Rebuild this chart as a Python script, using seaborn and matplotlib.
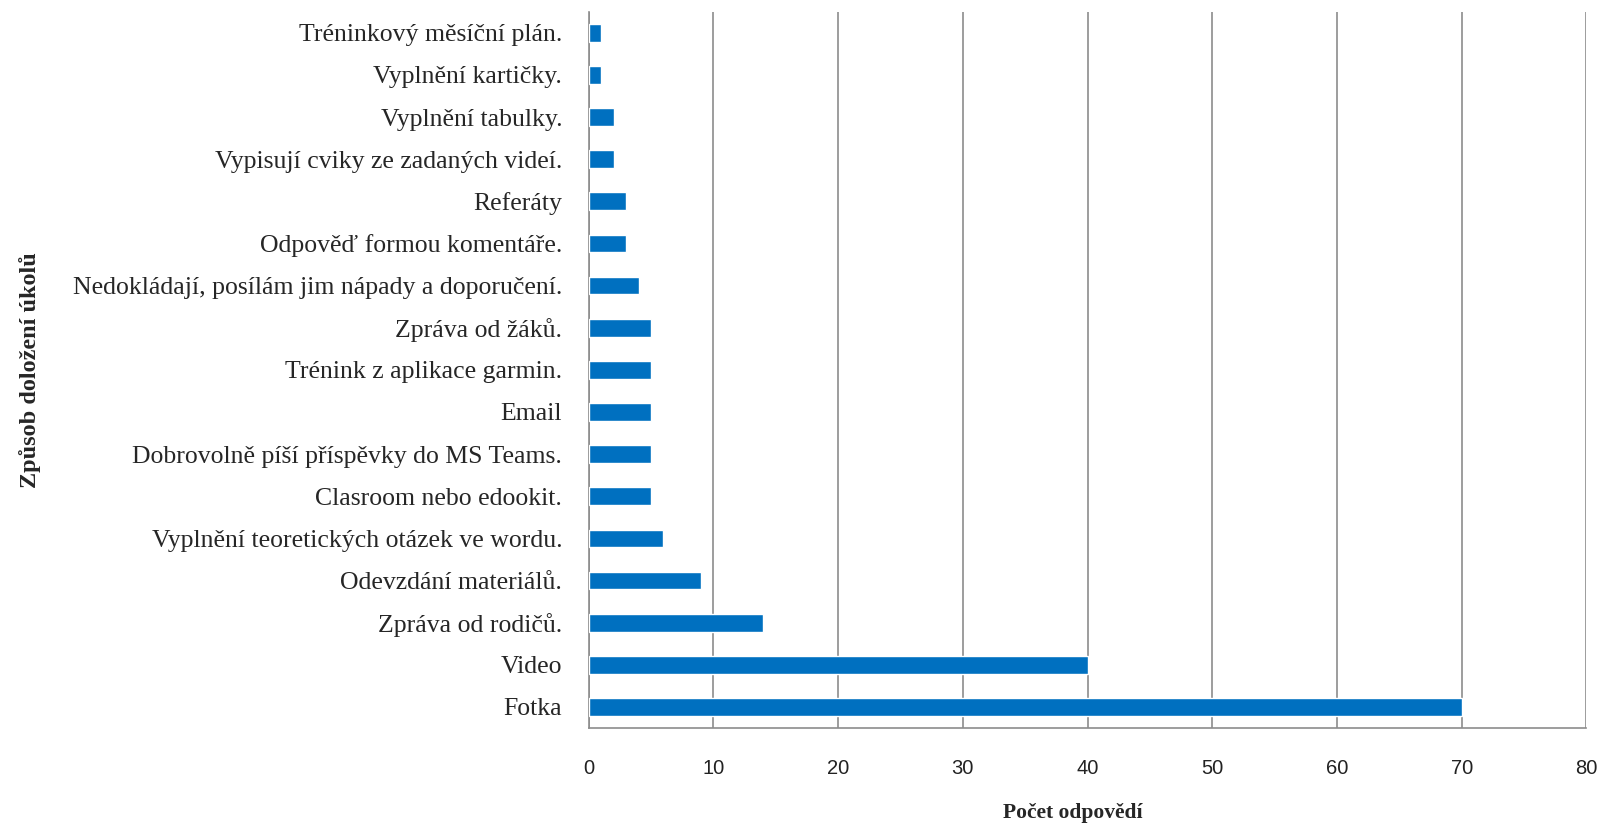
import numpy as np
import pandas as pd
import seaborn as sns
import matplotlib.pyplot as plt

# Categories listed top to bottom as in the chart
categories = [
    'Tréninkový měsíční plán.',
    'Vyplnění kartičky.',
    'Vyplnění tabulky.',
    'Vypisují cviky ze zadaných videí.',
    'Referáty',
    'Odpověď formou komentáře.',
    'Nedokládají, posílám jim nápady a doporučení.',
    'Zpráva od žáků.',
    'Trénink z aplikace garmin.',
    'Email',
    'Dobrovolně píší příspěvky do MS Teams.',
    'Clasroom nebo edookit.',
    'Vyplnění teoretických otázek ve wordu.',
    'Odevzdání materiálů.',
    'Zpráva od rodičů.',
    'Video',
    'Fotka',
]
counts = [1, 1, 2, 2, 3, 3, 4, 5, 5, 5, 5, 5, 6, 9, 14, 40, 70]
x_ticks = [0, 10, 20, 30, 40, 50, 60, 70, 80]

df = pd.DataFrame({'Způsob': categories, 'Počet': counts})

sns.set_style("white")
fig = plt.figure(figsize=(16.04, 8.33), dpi=100)
ax = fig.add_axes([0.367, 0.126, 0.622, 0.86])

sns.barplot(data=df, x='Počet', y='Způsob', orient='h', color='#0070C0',
            width=0.42, saturation=1, ax=ax, zorder=3)

ax.set_xlim(0, 80)
ax.set_xticks(x_ticks)
ax.xaxis.grid(True, color='#8c8c8c', linewidth=1.2, zorder=0)
ax.yaxis.grid(False)

for side in ['top', 'right']:
    ax.spines[side].set_visible(False)
for side in ['left', 'bottom']:
    ax.spines[side].set_color('#8c8c8c')
    ax.spines[side].set_linewidth(1.2)

ax.tick_params(axis='x', direction='out', length=7, width=1.2, color='#8c8c8c',
               pad=15, labelsize=14.5, labelcolor='#222222')
ax.tick_params(axis='y', length=0, pad=19, labelsize=18.5)
for lab in ax.get_xticklabels():
    lab.set_family(['Liberation Sans', 'DejaVu Sans'])
for lab in ax.get_yticklabels():
    lab.set_family(['Liberation Serif', 'DejaVu Serif'])

ax.set_xlabel('Počet odpovědí', fontsize=15.5, fontweight='bold',
              family=['Liberation Serif', 'DejaVu Serif'])
ax.set_ylabel('Způsob doložení úkolů', fontsize=17.5, fontweight='bold',
              family=['Liberation Serif', 'DejaVu Serif'])
ax.xaxis.set_label_coords(0.485, -0.105)
ax.yaxis.set_label_coords(-0.549, 0.5)

fig.savefig('out.png', dpi=100)
plt.close()
